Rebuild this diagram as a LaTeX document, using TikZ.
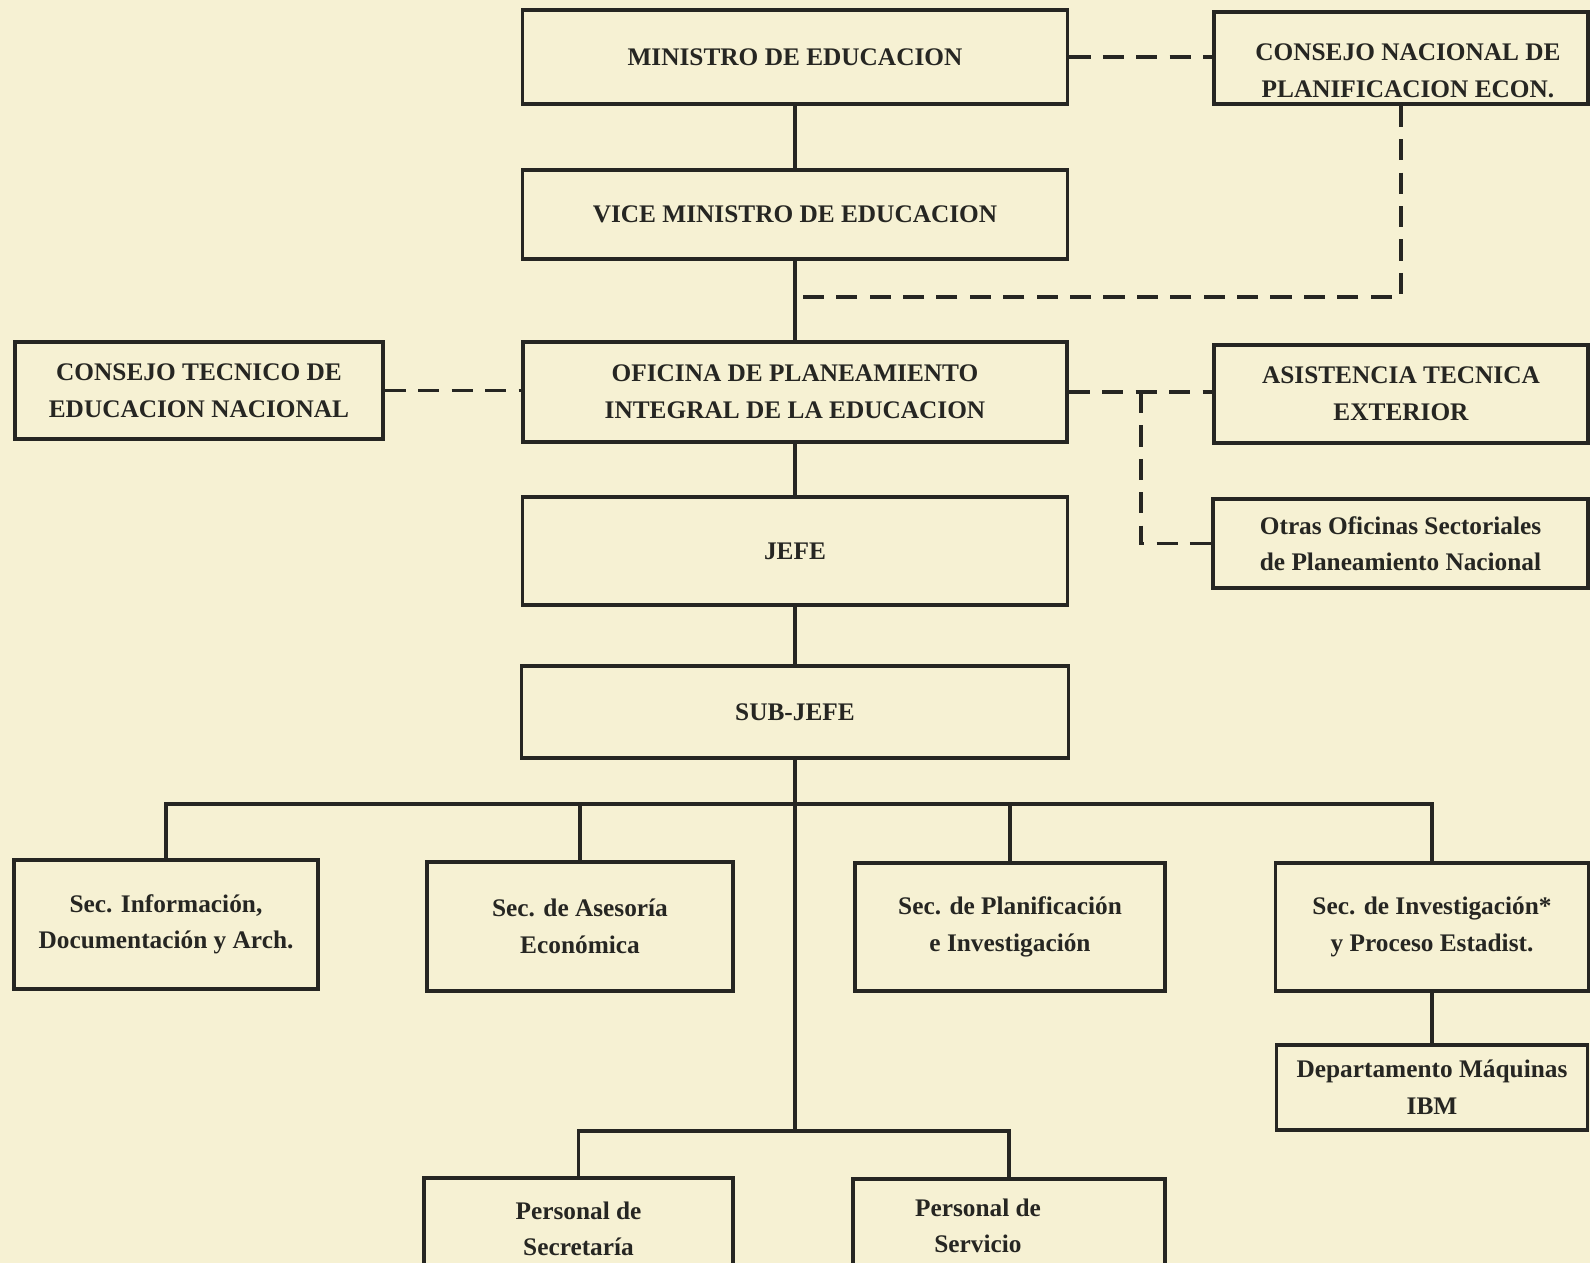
\documentclass[tikz,border=0pt]{standalone}
\usepackage{fontspec}
\setmainfont{Liberation Serif}
\usepackage{tikz}

\definecolor{paper}{RGB}{246,241,211}
\definecolor{ink}{RGB}{38,38,34}

\begin{document}
\begin{tikzpicture}[x=0.01cm, y=-0.01cm,
    box/.style={draw=ink, line width=1pt, rectangle, inner sep=0pt, align=center,
      text=ink, font=\bfseries\fontsize{7.2}{10.4}\selectfont},
    txt/.style={inner sep=0pt, align=center, text=ink, font=\bfseries\fontsize{7.2}{10.4}\selectfont},
    link/.style={draw=ink, line width=1pt},
    dashlink/.style={link, dash pattern=on 6pt off 3.5pt}]

  % page
  \useasboundingbox (0,0) rectangle (1590,1263);
  \fill[paper] (0,0) rectangle (1590,1263);

  % command column
  \node[box, minimum width=5.45cm, minimum height=0.94cm] (min) at (795,57) {MINISTRO DE EDUCACION};
  \node[box, minimum width=5.45cm, minimum height=0.89cm] (vice) at (795,214.5) {VICE MINISTRO DE EDUCACION};
  \node[box, minimum width=5.44cm, minimum height=1.00cm] (opie) at (795,392) {OFICINA DE PLANEAMIENTO\\INTEGRAL DE LA EDUCACION};
  \node[box, minimum width=5.45cm, minimum height=1.08cm] (jefe) at (795,551) {JEFE};
  \node[box, minimum width=5.47cm, minimum height=0.92cm] (subjefe) at (795,712) {SUB-JEFE};

  % side bodies
  \node[box, minimum width=3.74cm, minimum height=0.92cm] (cnpe) at (1401,58) {};
  \node[txt] (cnpetxt) at (1408,71) {CONSEJO NACIONAL DE\\PLANIFICACION ECON.};
  \node[box, minimum width=3.68cm, minimum height=0.97cm] (ctne) at (199,390.5) {CONSEJO TECNICO DE\\EDUCACION NACIONAL};
  \node[box, minimum width=3.74cm, minimum height=0.98cm] (ate) at (1401,394) {ASISTENCIA TECNICA\\EXTERIOR};
  \node[box, minimum width=3.75cm, minimum height=0.89cm] (oos) at (1400.5,543.5) {Otras Oficinas Sectoriales\\de Planeamiento Nacional};

  % sections
  \node[box, minimum width=3.04cm, minimum height=1.29cm] (sinfo) at (166,924.5) {Sec. Información,\\Documentación y Arch.};
  \node[box, minimum width=3.06cm, minimum height=1.29cm] (sase) at (580,926.5) {Sec. de Asesoría\\Económica};
  \node[box, minimum width=3.10cm, minimum height=1.28cm] (splan) at (1010,927) {Sec. de Planificación\\e Investigación};
  \node[box, minimum width=3.13cm, minimum height=1.28cm] (sinv) at (1432,927) {Sec. de Investigación*\\y Proceso Estadist.};
  \node[box, minimum width=3.11cm, minimum height=0.85cm] (ibm) at (1432,1087.5) {Departamento Máquinas\\IBM};

  % staff
  \node[box, minimum width=3.09cm, minimum height=1.02cm] (psec) at (578.5,1229) {Personal de\\Secretaría};
  \node[box, minimum width=3.12cm, minimum height=1.01cm] (pserv) at (1009,1229.5) {};
  \node[txt] (pservtxt) at (978,1226) {Personal de\\Servicio};

  % knots
  \coordinate (vknot) at (795,297);
  \coordinate (aknot) at (1141,392);
  \coordinate (bus) at (795,804);
  \coordinate (staff) at (795,1131);

  % solid lines
  \draw[link] (min.south) -- (vice.north);
  \draw[link] (vice.south) -- (opie.north);
  \draw[link] (opie.south) -- (jefe.north);
  \draw[link] (jefe.south) -- (subjefe.north);
  \draw[link] (subjefe.south) -- (staff);
  \draw[link] (sinfo.north) -- (sinfo.north |- bus) -- (sinv.north |- bus) -- (sinv.north);
  \draw[link] (sase.north) -- (sase.north |- bus);
  \draw[link] (splan.north) -- (splan.north |- bus);
  \draw[link] (sinv.south) -- (ibm.north);
  \draw[link] (psec.north) -- (psec.north |- staff) -- (pserv.north |- staff) -- (pserv.north);

  % dashed lines
  \draw[dashlink] (min.east) -- (cnpe.west |- min.east);
  \draw[dashlink] (cnpe.south) |- (vknot);
  \draw[dashlink] (ctne.east) -- (opie.west |- ctne.east);
  \draw[dashlink] (opie.east) -- (ate.west |- opie.east);
  \draw[dashlink] (aknot) |- (oos.west);
\end{tikzpicture}
\end{document}
